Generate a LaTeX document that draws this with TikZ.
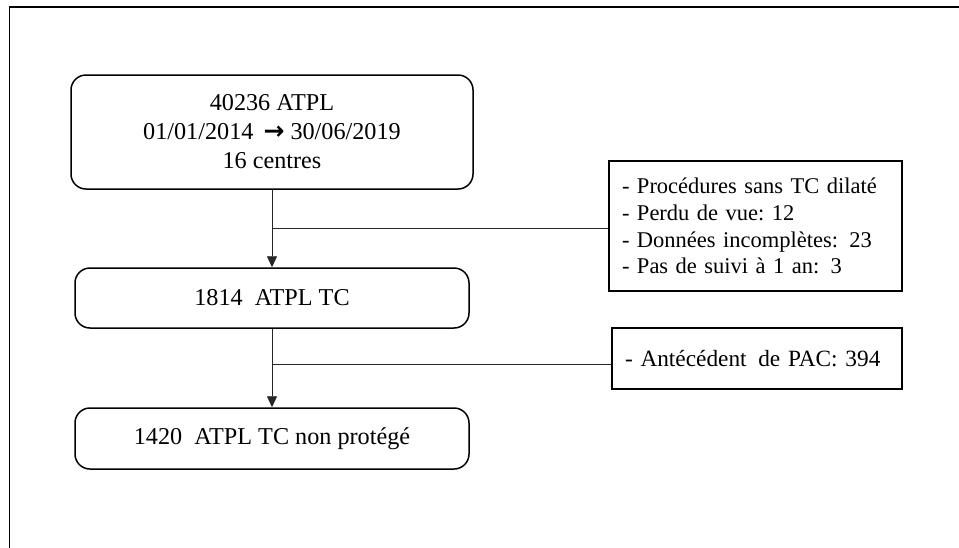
\documentclass[tikz,border=0pt]{standalone}
\usepackage{fontspec}
\setmainfont{Liberation Serif}
\newfontfamily\arrowfont{DejaVu Sans}
\usetikzlibrary{arrows.meta}
\tikzset{
  flowbox/.style={draw, line width=1.5pt, rounded corners=15pt, inner sep=0pt, align=center},
  sidebox/.style={draw, line width=1.5pt, inner sep=0pt, inner xsep=13pt, align=left},
  conn/.style={line width=0.9pt, draw=black!85},
  arr/.style={conn, -{Triangle[width=10pt,length=11pt]}},
}
\begin{document}
\begin{tikzpicture}[x=1pt,y=-1pt, font=\fontsize{24.2}{29}\selectfont]
\useasboundingbox (0,0) rectangle (959,547);
\draw[line width=1.8pt] (9.5,7) rectangle (975,565);
\node[flowbox, minimum width=402pt, minimum height=114pt] (b1) at (272,132)
  {40236 ATPL\\01/01/2014\ \,{\arrowfont\bfseries\fontsize{25}{29}\selectfont →}\ 30/06/2019\\16 centres};
\node[flowbox, minimum width=394pt, minimum height=60pt] (b2) at (272,298) {1814\ \ ATPL TC};
\node[flowbox, minimum width=394pt, minimum height=61pt] (b5) at (272,438.5) {1420\ \ ATPL TC non protégé};
\node[sidebox, text width=267pt, minimum height=130pt, font=\fontsize{22.5}{26.7}\selectfont] (b3) at (755.5,226)
  {- Procédures sans TC dilaté\\- Perdu de vue:\ 12\\- Données incomplètes: 23\\- Pas de suivi à 1 an: 3};
\node[sidebox, text width=264pt, minimum height=61pt, font=\fontsize{23.3}{28}\selectfont] (b4) at (757,358.5) {- Antécédent\ \,de PAC: 394};
\coordinate (j1) at (272,228);
\coordinate (j2) at (272,364);
\draw[arr] (b1.south) -- (b2.north);
\draw[arr] (b2.south) -- (b5.north);
\draw[conn] (j1) -- (j1 -| b3.west);
\draw[conn] (j2) -- (j2 -| b4.west);
\end{tikzpicture}
\end{document}
